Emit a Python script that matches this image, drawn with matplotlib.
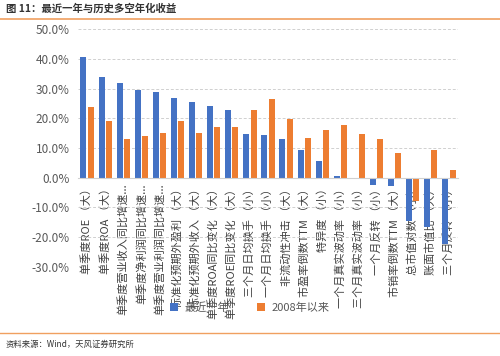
import matplotlib
matplotlib.use('Agg')
import matplotlib.pyplot as plt
import numpy as np
from matplotlib.ticker import FuncFormatter

plt.rcParams['font.family'] = ['Noto Sans CJK SC', 'DejaVu Sans']

factors = ['单季度ROE （大）', '单季度ROA （大）', '单季度营业收入同比增速...',
           '单季度净利润同比增速...', '单季度营业利润同比增速...',
           '标准化预期外盈利 （大）', '标准化预期外收入 （大）', '单季度ROA同比变化 （大）',
           '单季度ROE同比变化 （大）', '三个月日均换手 （小）', '一个月日均换手 （小）',
           '非流动性冲击 （大）', '市盈率倒数TTM （大）', '特异度 （小）',
           '一个月真实波动率 （小）', '三个月真实波动率 （小）', '一个月反转 （小）',
           '市销率倒数TTM （大）', '总市值对数 （小）', '账面市值比 （大）', '三个月反转 （小）']
recent = [40.7, 34.0, 32.0, 29.5, 29.0, 26.8, 25.4, 24.3, 22.7, 14.6, 14.4,
          13.0, 9.4, 5.7, 0.5, -0.3, -2.3, -2.8, -14.7, -16.6, -22.2]
since2008 = [23.7, 19.0, 13.2, 14.0, 15.2, 19.2, 15.2, 17.0, 17.0, 22.7, 26.6,
             19.8, 13.5, 16.2, 17.9, 14.6, 12.9, 8.4, -8.0, 9.4, 2.6]
series_names = ['最近一年', '2008年以来']

blue = '#4472C4'
orange = '#ED7D31'

fig = plt.figure(figsize=(5, 3.56), dpi=100)
ax = fig.add_axes([0.156, 0.2508, 0.76, 0.6669])

x = np.arange(len(factors))
w = 0.33
ax.bar(x - 0.2, recent, w, color=blue, label=series_names[0], zorder=2)
ax.bar(x + 0.2, since2008, w, color=orange, label=series_names[1], zorder=2)

ax.set_xlim(-0.5, len(factors) - 0.5)
ax.set_ylim(-30, 50)
ax.set_yticks(np.arange(-30, 51, 10))
ax.yaxis.set_major_formatter(FuncFormatter(lambda v, p: '%.1f%%' % v))
ax.grid(axis='y', color='#d0d0d0', linestyle=(0, (3, 2)), linewidth=0.7, zorder=0)

for s in ['top', 'right', 'left']:
    ax.spines[s].set_visible(False)
ax.spines['bottom'].set_position(('data', 0))
ax.spines['bottom'].set_color('#d0d0d0')
ax.spines['bottom'].set_linewidth(0.8)

ax.set_xticks(x)
ax.set_xticklabels(factors, rotation=90, fontsize=8, color='#404040')
ax.tick_params(axis='x', length=0, pad=4)
ax.tick_params(axis='y', length=0, labelsize=8.5, labelcolor='#595959', pad=6)
for t in ax.get_xticklabels():
    t.set_zorder(5)

leg = fig.legend(loc='center', bbox_to_anchor=(0.5, 0.135), ncol=2, frameon=False,
                 fontsize=8, handlelength=0.7, handleheight=0.7, columnspacing=2.5,
                 handletextpad=0.6)
for t in leg.get_texts():
    t.set_color('#595959')
leg.set_zorder(1)

# title and source lines
fig.text(0.012, 0.975, '图 11：最近一年与历史多空年化收益', fontsize=7.5,
         fontweight='bold', color='#333333', va='center', ha='left')
fig.add_artist(plt.Line2D([0, 1], [0.947, 0.947], color='#F0A060', linewidth=1.2))
fig.add_artist(plt.Line2D([0, 1], [0.065, 0.065], color='#F0A060', linewidth=1.0))
fig.text(0.012, 0.032, '资料来源：Wind，天风证券研究所', fontsize=6,
         color='#333333', va='center', ha='left')

fig.savefig('out.png', dpi=100)
